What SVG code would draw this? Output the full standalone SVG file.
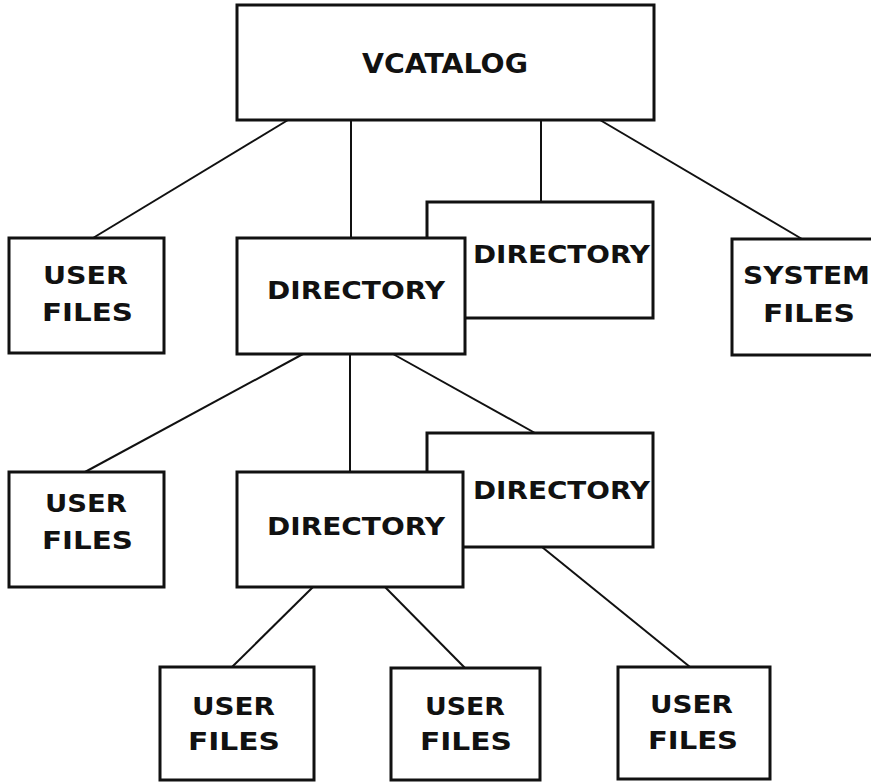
<svg xmlns="http://www.w3.org/2000/svg" width="871" height="782" viewBox="0 0 871 782">
<style>
.box{fill:#fff;stroke:#111;stroke-width:3}
.edge{stroke:#111;stroke-width:2;fill:none}
.t{font-family:"DejaVu Sans","Liberation Sans",sans-serif;font-weight:bold;fill:#111;font-size:24px}
.d{font-size:25px}
.v{font-size:27px}
</style>
<rect width="871" height="782" fill="#fff"/>
<g id="connectors">
<line class="edge" x1="288" y1="120" x2="93" y2="238"/>
<line class="edge" x1="351" y1="120" x2="351" y2="238"/>
<line class="edge" x1="541" y1="120" x2="541" y2="202"/>
<line class="edge" x1="600" y1="120" x2="802" y2="239"/>
<line class="edge" x1="303" y1="354" x2="85" y2="472"/>
<line class="edge" x1="350" y1="354" x2="350" y2="472"/>
<line class="edge" x1="393" y1="354" x2="535" y2="433"/>
<line class="edge" x1="313" y1="587" x2="232" y2="667"/>
<line class="edge" x1="385" y1="587" x2="465" y2="668"/>
<line class="edge" x1="542" y1="547" x2="690" y2="667"/>
</g>
<g id="vcatalog">
<rect class="box" x="237" y="5" width="417" height="115"/>
<text class="t v" x="362" y="73" textLength="166" lengthAdjust="spacingAndGlyphs">VCATALOG</text>
</g>
<g id="userfiles1">
<rect class="box" x="9" y="238" width="155" height="115"/>
<text class="t" x="43" y="284" textLength="85" lengthAdjust="spacingAndGlyphs">USER</text>
<text class="t" x="42" y="321" textLength="91" lengthAdjust="spacingAndGlyphs">FILES</text>
</g>
<g id="directory2">
<rect class="box" x="427" y="202" width="226" height="116"/>
<text class="t d" x="473" y="263" textLength="177" lengthAdjust="spacingAndGlyphs">DIRECTORY</text>
</g>
<g id="directory1">
<rect class="box" x="237" y="238" width="228" height="116"/>
<text class="t d" x="267" y="299" textLength="178" lengthAdjust="spacingAndGlyphs">DIRECTORY</text>
</g>
<g id="systemfiles">
<rect class="box" x="732" y="239" width="155" height="116"/>
<text class="t" x="743" y="284" textLength="127" lengthAdjust="spacingAndGlyphs">SYSTEM</text>
<text class="t" x="763" y="322" textLength="92" lengthAdjust="spacingAndGlyphs">FILES</text>
</g>
<g id="userfiles2">
<rect class="box" x="9" y="472" width="155" height="115"/>
<text class="t" x="45" y="512" textLength="82" lengthAdjust="spacingAndGlyphs">USER</text>
<text class="t" x="42" y="549" textLength="91" lengthAdjust="spacingAndGlyphs">FILES</text>
</g>
<g id="directory4">
<rect class="box" x="427" y="433" width="226" height="114"/>
<text class="t d" x="473" y="499" textLength="177" lengthAdjust="spacingAndGlyphs">DIRECTORY</text>
</g>
<g id="directory3">
<rect class="box" x="237" y="472" width="226" height="115"/>
<text class="t d" x="267" y="535" textLength="178" lengthAdjust="spacingAndGlyphs">DIRECTORY</text>
</g>
<g id="userfiles3">
<rect class="box" x="160" y="667" width="154" height="113"/>
<text class="t" x="192" y="715" textLength="83" lengthAdjust="spacingAndGlyphs">USER</text>
<text class="t" x="188" y="750" textLength="92" lengthAdjust="spacingAndGlyphs">FILES</text>
</g>
<g id="userfiles4">
<rect class="box" x="391" y="668" width="149" height="112"/>
<text class="t" x="425" y="715" textLength="80" lengthAdjust="spacingAndGlyphs">USER</text>
<text class="t" x="420" y="750" textLength="92" lengthAdjust="spacingAndGlyphs">FILES</text>
</g>
<g id="userfiles5">
<rect class="box" x="618" y="667" width="152" height="112"/>
<text class="t" x="650" y="713" textLength="83" lengthAdjust="spacingAndGlyphs">USER</text>
<text class="t" x="648" y="749" textLength="90" lengthAdjust="spacingAndGlyphs">FILES</text>
</g>
</svg>
